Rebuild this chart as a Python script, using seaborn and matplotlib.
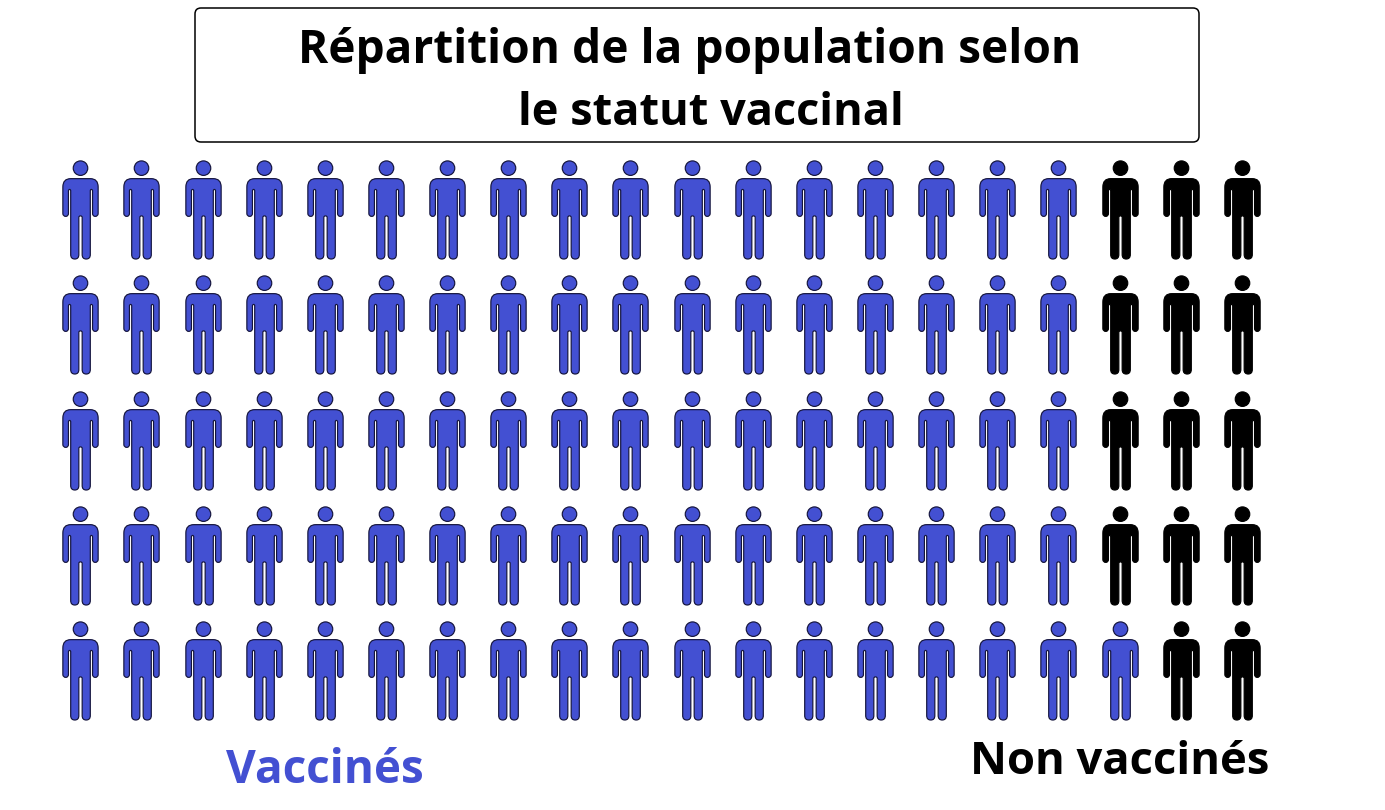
import numpy as np
import pandas as pd
import seaborn as sns
import matplotlib.pyplot as plt
from matplotlib.path import Path
from matplotlib.patches import FancyBboxPatch
from matplotlib.transforms import IdentityTransform

# --- data ---
title_lines = ["Répartition de la population selon", "le statut vaccinal"]
status_labels = ["Vaccinés", "Non vaccinés"]
rows = [0, 1, 2, 3, 4]
vaccinated_per_row = [17, 17, 17, 17, 18]
people_per_row = [20, 20, 20, 20, 20]

# --- style ---
blue = "#4350d2"
black = "#000000"
font = ["Open Sans", "DejaVu Sans"]
W, H = 1385, 810

sns.set_theme(style="white")
plt.rcParams["font.family"] = font


def person_marker():
    # pictogram, 1 unit = 1 pixel, centred on the figure
    hx, hy, hr = 0, 43.2, 7.4
    head = Path.circle((hx, hy), hr)
    P = [
        (-10, 32.5, 1), (10, 32.5, 2), (18, 32.5, 3), (18, 24, 3),
        (18, -3, 2), (18, -6, 3), (15, -6, 3), (12.3, -6, 3), (12.3, -3, 3),
        (12.3, 20, 2), (12.3, 21.5, 3), (11, 21.5, 3), (10, 21.5, 3), (10, 20, 3),
        (10, -45, 2), (10, -49.5, 3), (5.8, -49.5, 3), (1.7, -49.5, 3), (1.7, -45, 3),
        (1.7, -7, 2), (1.7, -5.5, 3), (0, -5.5, 3), (-1.7, -5.5, 3), (-1.7, -7, 3),
        (-1.7, -45, 2), (-1.7, -49.5, 3), (-5.8, -49.5, 3), (-10, -49.5, 3), (-10, -45, 3),
        (-10, 20, 2), (-10, 21.5, 3), (-11, 21.5, 3), (-12.3, 21.5, 3), (-12.3, 20, 3),
        (-12.3, -3, 2), (-12.3, -6, 3), (-15, -6, 3), (-18, -6, 3), (-18, -3, 3),
        (-18, 24, 2), (-18, 32.5, 3), (-10, 32.5, 3),
    ]
    body = Path([(p[0], p[1]) for p in P], [p[2] for p in P])
    return Path.make_compound_path(head, body)


records = []
for r, n_vacc, n_total in zip(rows, vaccinated_per_row, people_per_row):
    for c in range(n_total):
        records.append({"col": c, "row": r,
                        "statut": status_labels[0] if c < n_vacc else status_labels[1]})
df = pd.DataFrame(records)

fig = plt.figure(figsize=(W / 100, H / 100), dpi=100)
ax = fig.add_axes([0, 0, 1, 1])

# column / row pitch in the picture
x0, dx = 80.3, 61.13
y0, dy = 209.9, 115.4
ax.set_xlim(-x0 / dx, (W - x0) / dx)
ax.set_ylim((H - y0) / dy, -y0 / dy)
ax.axis("off")

# blue people have a thin dark outline
for statut, col, edge, lw in [(status_labels[0], blue, "#14143c", 0.85),
                              (status_labels[1], black, black, 0.85)]:
    sns.scatterplot(data=df[df["statut"] == statut], x="col", y="row", ax=ax,
                    marker=person_marker(), s=(49.6 * 2 * 0.72) ** 2,
                    color=col, edgecolor=edge, linewidth=lw, legend=False, clip_on=False)

# title box, drawn in pixels
px = IdentityTransform()
box = FancyBboxPatch((201, H - 136), 992, 122, boxstyle="round,pad=6,rounding_size=6",
                     transform=px, fc="white", ec="black", lw=1.1, zorder=3)
fig.add_artist(box)


def label(x, y, s, size, color="black"):
    # x centre and baseline in reference pixels
    fig.text(x, H - y, s, transform=px, ha="center", va="baseline",
             fontsize=size, fontweight="bold", color=color, family=font, zorder=4)


label(689.5, 63, title_lines[0], 33.1)
label(711, 125, title_lines[1], 32.5)
label(325, 783, status_labels[0], 33, blue)
label(1119.5, 774, status_labels[1], 32.7)

fig.savefig("out.png", dpi=100, facecolor="white")
